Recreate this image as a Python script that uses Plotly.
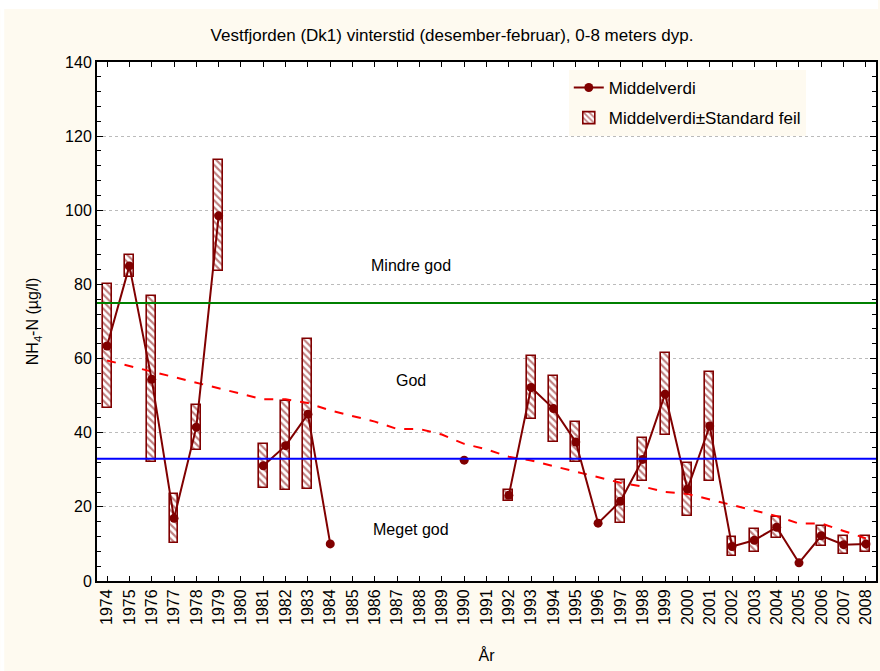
import plotly.graph_objects as go

# --- data -------------------------------------------------------------
years = list(range(1974, 2009))

# mean NH4-N per winter (None = no sampling that year)
mean_vals = [63.4, 85.0, 54.4, 16.9, 41.5, 98.5, None, 31.1, 36.5, 45.0,
             10.0, None, None, None, None, None, 32.6, None, 23.1, 52.2,
             46.5, 37.5, 15.6, 21.5, 32.8, 50.4, 24.8, 41.8, 9.3, 11.0,
             14.5, 4.9, 12.2, 9.8, 10.0]

# standard error of the mean (None = single observation)
se_vals = [16.7, 2.9, 22.4, 6.7, 6.1, 15.0, None, 5.9, 12.0, 20.3,
           None, None, None, None, None, None, None, None, 1.45, 8.6,
           8.9, 5.5, None, 5.75, 5.8, 11.1, 7.15, 14.7, 2.6, 3.15,
           2.9, None, 2.75, 2.4, 2.1]

# smoothed trend
trend_vals = [59.5, 58.0, 56.5, 55.0, 53.5, 51.8, 50.5, 49.0, 49.0, 48.0,
              46.0, 44.5, 43.0, 41.0, 41.0, 39.5, 37.0, 35.5, 33.5, 32.5,
              31.0, 29.5, 28.0, 26.5, 25.5, 24.0, 23.5, 22.0, 20.5, 19.0,
              17.5, 15.5, 15.5, 13.5, 11.5]

# class boundaries and class names
limit_good = 75
limit_very_good = 33
class_names = ["Mindre god", "God", "Meget god"]
class_label_y = [85, 54, 14]
class_label_x = 1987.6

title_text = "Vestfjorden (Dk1) vinterstid (desember-februar), 0-8 meters dyp."

# --- styling ----------------------------------------------------------
dark_red = "#800000"
cream = "#FEFAF0"
font_family = "Liberation Sans, Arial, sans-serif"

box_years = [y for y, s in zip(years, se_vals) if s is not None]
box_base = [m - s for m, s in zip(mean_vals, se_vals) if s is not None]
box_height = [2 * s for s in se_vals if s is not None]

fig = go.Figure()

fig.add_trace(go.Bar(
    x=box_years, y=box_height, base=box_base, width=0.40,
    name="Middelverdi±Standard feil",
    legendgroup="se",
    marker=dict(color="white",
                line=dict(color=dark_red, width=1.6),
                pattern=dict(shape="\\", fgcolor=dark_red, bgcolor="white",
                             size=5, solidity=0.42)),
    legendrank=2,
))

fig.add_trace(go.Scatter(
    x=years, y=trend_vals, mode="lines",
    line=dict(color="#FF0000", width=2, dash="dash"),
    showlegend=False,
))

fig.add_trace(go.Scatter(
    x=years, y=mean_vals, mode="lines+markers",
    name="Middelverdi",
    legendgroup="mean",
    line=dict(color=dark_red, width=2),
    marker=dict(color=dark_red, size=9),
    connectgaps=False,
    legendrank=1,
))

# class boundaries
fig.add_hline(y=limit_good, line=dict(color="#008000", width=2))
fig.add_hline(y=limit_very_good, line=dict(color="#0000FF", width=2))

for name, ly in zip(class_names, class_label_y):
    fig.add_annotation(x=class_label_x, y=ly, text=name, showarrow=False,
                       font=dict(size=16, color="black"))

# white border strips on the outer frame
L, R, T, B = 97, 2, 62, 90
W, H = 880, 671
pw, ph = W - L - R, H - T - B
def px_x(p):
    return (p - L) / pw
def px_y(p):
    return (H - B - p) / ph
fig.add_shape(type="rect", xref="paper", yref="paper", layer="above",
              x0=px_x(0), x1=px_x(W), y0=px_y(9), y1=px_y(0),
              fillcolor="white", line=dict(width=0))
fig.add_shape(type="rect", xref="paper", yref="paper", layer="above",
              x0=px_x(0), x1=px_x(4), y0=px_y(H), y1=px_y(0),
              fillcolor="white", line=dict(width=0))

fig.update_layout(
    width=W, height=H,
    margin=dict(l=L, r=R, t=T, b=B),
    paper_bgcolor=cream, plot_bgcolor="white",
    font=dict(family=font_family, size=16, color="black"),
    title=dict(text=title_text, x=452 / W, xanchor="center",
               y=1 - 35 / H, yanchor="middle",
               font=dict(size=17, color="black")),
    showlegend=True,
    legend=dict(x=px_x(570), y=px_y(70), xanchor="left", yanchor="top",
                bgcolor=cream, borderwidth=0, font=dict(size=17),
                traceorder="grouped", tracegroupgap=5, itemwidth=30),
    bargap=0,
)

fig.update_xaxes(
    range=[1973.55, 2008.45], tickmode="array", tickvals=years,
    ticktext=[str(y) for y in years], tickangle=-90,
    ticks="inside", ticklen=5, tickcolor="black",
    showline=True, linecolor="black", linewidth=2, mirror="ticks",
    showgrid=False, zeroline=False,
    title=dict(text="År", font=dict(size=16), standoff=26),
)

fig.update_yaxes(
    range=[0, 140], dtick=20, tick0=0,
    ticks="inside", ticklen=6, tickcolor="black",
    minor=dict(dtick=4, ticks="inside", ticklen=4, tickcolor="black",
               showgrid=False),
    showline=True, linecolor="black", linewidth=2, mirror="ticks",
    showgrid=True, gridcolor="#BBBBBB", griddash="dot", gridwidth=1,
    zeroline=False,
    title=dict(text="NH<sub>4</sub>-N (µg/l)", font=dict(size=16), standoff=22),
)

fig.write_html("out.html")
